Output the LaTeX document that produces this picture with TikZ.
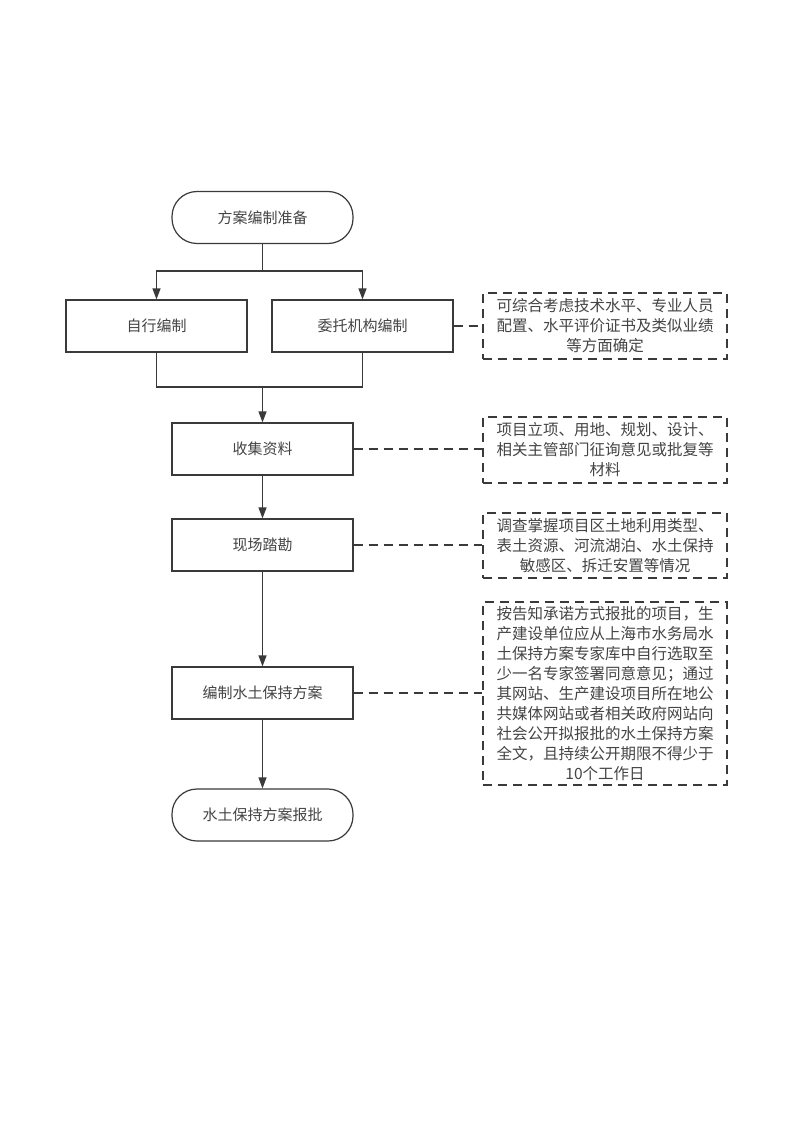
\documentclass[tikz,border=0pt]{standalone}
\usepackage{fontspec}
\setmainfont{Noto Sans CJK SC}
\usetikzlibrary{arrows.meta}
\definecolor{ln}{HTML}{3A3A3A}
\definecolor{tx}{HTML}{444444}
\tikzset{
  boxstyle/.style={draw=ln, line width=1.2pt, rectangle, minimum width=181pt, minimum height=52pt, inner sep=0pt, text=tx, font=\fontsize{15}{20}\selectfont},
  termstyle/.style={boxstyle, rounded corners=25pt},
  notestyle/.style={draw=ln, line width=1.2pt, dash pattern=on 9pt off 6pt, rectangle, minimum width=244pt, inner sep=0pt, text=tx, align=center, text width=236pt, font=\fontsize{15.5}{20}\selectfont},
  flow/.style={draw=ln, line width=1.2pt, -{Triangle[length=11pt,width=8pt]}},
  plain/.style={draw=ln, line width=1.2pt},
  dashlink/.style={draw=ln, line width=1.2pt, dash pattern=on 9pt off 6pt}
}
\begin{document}
\begin{tikzpicture}[x=1pt,y=-1pt]
\useasboundingbox[fill=white] (0,0) rectangle (794,1123);
\node[termstyle] (start) at (262.5,217.5) {方案编制准备};
\node[boxstyle] (self) at (156.5,326) {自行编制};
\node[boxstyle] (entrust) at (362.5,326) {委托机构编制};
\node[boxstyle] (collect) at (262.5,449) {收集资料};
\node[boxstyle] (survey) at (262.5,545) {现场踏勘};
\node[boxstyle] (compile) at (262.5,693) {编制水土保持方案};
\node[termstyle] (final) at (262.5,815) {水土保持方案报批};

\node[notestyle, minimum height=66pt] (n1) at (605,326) {可综合考虑技术水平、专业人员\\配置、水平评价证书及类似业绩\\等方面确定};
\node[notestyle, minimum height=66pt] (n2) at (605,450) {项目立项、用地、规划、设计、\\相关主管部门征询意见或批复等\\材料};
\node[notestyle, minimum height=65pt] (n3) at (605,545.5) {调查掌握项目区土地利用类型、\\表土资源、河流湖泊、水土保持\\敏感区、拆迁安置等情况};
\node[notestyle, minimum height=183pt] (n4) at (605,693.5) {按告知承诺方式报批的项目，生\\产建设单位应从上海市水务局水\\土保持方案专家库中自行选取至\\少一名专家签署同意意见；通过\\其网站、生产建设项目所在地公\\共媒体网站或者相关政府网站向\\社会公开拟报批的水土保持方案\\全文，且持续公开期限不得少于\\10个工作日};

\coordinate (split) at (262.5,271);
\coordinate (merge) at (262.5,387);
\draw[plain] (start.south) -- (split);
\draw[flow] (split) -| (self.north);
\draw[flow] (split) -| (entrust.north);
\draw[plain] (self.south) |- (merge);
\draw[plain] (entrust.south) |- (merge);
\draw[flow] (merge) -- (collect.north);
\draw[flow] (collect.south) -- (survey.north);
\draw[flow] (survey.south) -- (compile.north);
\draw[flow] (compile.south) -- (final.north);

\draw[dashlink] (entrust.east) -- (entrust.east -| n1.west);
\draw[dashlink] (collect.east) -- (collect.east -| n2.west);
\draw[dashlink] (survey.east) -- (survey.east -| n3.west);
\draw[dashlink] (compile.east) -- (compile.east -| n4.west);
\end{tikzpicture}
\end{document}
